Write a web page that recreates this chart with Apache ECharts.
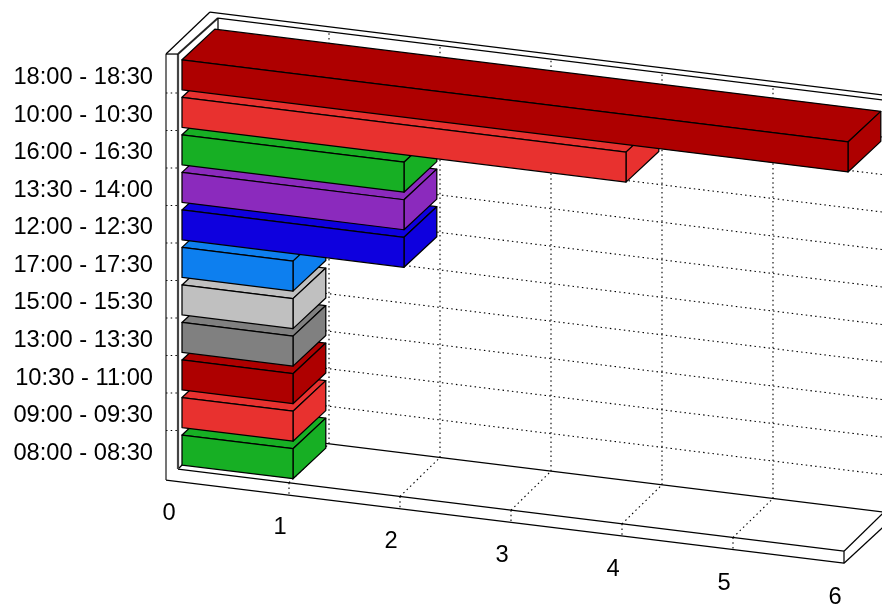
<!DOCTYPE html>
<html>
<head>
<meta charset="utf-8">
<script src="https://cdn.jsdelivr.net/npm/echarts@6/dist/echarts.min.js"></script>
<style>html,body{margin:0;padding:0;background:#fff}#c{width:882px;height:605px}</style>
</head>
<body>
<div id="c"></div>
<script>
const categories = ['08:00 - 08:30','09:00 - 09:30','10:30 - 11:00','13:00 - 13:30','15:00 - 15:30','17:00 - 17:30','12:00 - 12:30','13:30 - 14:00','16:00 - 16:30','10:00 - 10:30','18:00 - 18:30'];
const values = [1,1,1,1,1,1,2,2,2,4,6];
const tickLabels = [0,1,2,3,4,5,6];
const barColors = ['#17af24','#e8312f','#ae0000','#808080','#c0c0c0','#0d7fef','#0e00de','#8b2abd','#17af24','#e8312f','#ae0000'];

const FONT = '"Liberation Sans", Arial, sans-serif';
const SLOPE = 13.7 / 111;
const LABEL_SLOPE = 14.05 / 111;
const BAR_H = 30, BAR_DX = 32.8, BAR_DY = -30.6;
const WALL_DX = 40, WALL_DY = -39, WALL_H = 412, INSET_X = -4, INSET_Y = 19, BASE_T = 12, BAND = 37.5;

function ptr(api, v, cat) {
  const c = api.coord([v, cat]);
  const o = api.coord([0, cat]);
  return [c[0], c[1] + SLOPE * (c[0] - o[0])];
}
function renderBar(params, api) {
  const v = api.value(0), cat = api.value(1);
  const a = ptr(api, 0, cat), b = ptr(api, v, cat);
  const fillc = barColors[params.dataIndex];
  const style = { fill: fillc, stroke: '#000', lineWidth: 1.25, lineJoin: 'round' };
  const t = BAR_H / 2;
  const ftl = [a[0], a[1] - t], ftr = [b[0], b[1] - t], fbr = [b[0], b[1] + t], fbl = [a[0], a[1] + t];
  const shift = p => [p[0] + BAR_DX, p[1] + BAR_DY];
  return { type: 'group', children: [
    { type: 'polygon', shape: { points: [ftl, ftr, shift(ftr), shift(ftl)] }, style },
    { type: 'polygon', shape: { points: [ftr, fbr, shift(fbr), shift(ftr)] }, style },
    { type: 'polygon', shape: { points: [ftl, ftr, fbr, fbl] }, style }
  ]};
}
function line(p, q, w, col, dash) {
  return { type: 'line', shape: { x1: p[0], y1: p[1], x2: q[0], y2: q[1] },
    style: { stroke: col || '#000', lineWidth: w || 1.25, lineDash: dash || null, fill: null } };
}
function renderFrame(params, api) {
  const maxV = tickLabels[tickLabels.length - 1];
  const fl = v => { const p = ptr(api, v, 0); return [p[0] + INSET_X, p[1] + INSET_Y]; };
  const back = (v, up) => { const p = fl(v); return [p[0] + WALL_DX, p[1] + WALL_DY - (up || 0)]; };
  const dots = [1.5, 3.2];
  const kids = [];
  tickLabels.forEach(v => {
    if (v === 0 || v === maxV) return;
    const f = fl(v);
    kids.push(line(f, back(v), 1.1, '#000', dots));
    kids.push(line(f, [f[0], f[1] + BASE_T], 1.1, '#000', dots));
    kids.push(line(back(v), back(v, WALL_H), 1.1, '#000', dots));
  });
  const f0 = fl(0), b0 = back(0), e = fl(maxV), be = back(maxV);
  categories.forEach((c, i) => {
    if (i === 0) return;
    const y = b0[1] + 0.5 - BAND * i + BAND;
    kids.push(line([f0[0] - BASE_T, y], [f0[0], y], 1.1, '#000', dots));
    const yb = b0[1] - BAND * i;
    kids.push(line([b0[0], yb], [be[0], yb + (be[1] - b0[1])], 1.1, '#000', dots));
  });
  const wallTopY = f0[1] - 415;
  const outerX = f0[0] - BASE_T;
  // floor
  kids.push(line(f0, e));
  kids.push(line([outerX, f0[1] + 11], [e[0], e[1] + BASE_T]));
  kids.push(line(e, [e[0], e[1] + BASE_T]));
  kids.push(line(e, be));
  kids.push(line([e[0], e[1] + BASE_T], [be[0], be[1] + BASE_T + 2]));
  kids.push(line(b0, be));
  kids.push(line(f0, b0));
  // walls
  kids.push(line([outerX, f0[1] + 11], [outerX, wallTopY], 1.25, '#222'));
  kids.push(line(f0, [f0[0], wallTopY], 2.2, '#444'));
  kids.push(line([outerX, wallTopY], [f0[0], wallTopY]));
  kids.push(line([f0[0], wallTopY], [b0[0], b0[1] - WALL_H], 1.8, '#222'));
  kids.push(line([outerX, wallTopY], [b0[0] - 8, b0[1] - WALL_H - 6]));
  kids.push(line([b0[0], b0[1] - WALL_H], b0));
  kids.push(line([b0[0], b0[1] - WALL_H], [be[0], be[1] - WALL_H]));
  kids.push(line([b0[0] - 8, b0[1] - WALL_H - 6], [be[0], be[1] - WALL_H - 6 + 8 * SLOPE]));
  return { type: 'group', children: kids };
}
function renderTick(params, api) {
  const v = api.value(0);
  const c = api.coord([v, 0]), o = api.coord([0, 0]);
  return { type: 'text', style: { text: String(tickLabels[params.dataIndex]), x: c[0] - 13, y: c[1] + LABEL_SLOPE * (c[0] - o[0]) + 63,
    fill: '#000', font: '23.7px ' + FONT, textAlign: 'center', textVerticalAlign: 'middle' } };
}

const chart = echarts.init(document.getElementById('c'), null, { renderer: 'canvas' });
chart.setOption({
  animation: false,
  backgroundColor: '#fff',
  grid: { left: 182, right: 34, top: 56, bottom: 136.2, containLabel: false },
  xAxis: { type: 'value', min: 0, max: 6, interval: 1, show: false },
  yAxis: { type: 'category', data: categories, inverse: false,
    axisLine: { show: false }, axisTick: { show: false }, splitLine: { show: false },
    axisLabel: { margin: 29, interval: 0, formatter: v => '{a|' + v + '}',
      rich: { a: { color: '#000', fontFamily: FONT, fontSize: 23.7, padding: [6, 0, 0, 0] } } } },
  series: [
    { type: 'custom', name: 'frame', coordinateSystem: 'cartesian2d', z: 1, silent: true, clip: false,
      encode: { x: 0, y: 1 }, data: [[0, categories[0]]], renderItem: renderFrame },
    { type: 'custom', name: 'bars', coordinateSystem: 'cartesian2d', z: 2, clip: false,
      encode: { x: 0, y: 1 }, data: values.map((v, i) => [v, categories[i]]), renderItem: renderBar },
    { type: 'custom', name: 'ticks', coordinateSystem: 'cartesian2d', z: 3, silent: true, clip: false,
      encode: { x: 0, y: 1 }, data: tickLabels.map(v => [v, categories[0]]), renderItem: renderTick }
  ]
});
</script>
</body>
</html>
